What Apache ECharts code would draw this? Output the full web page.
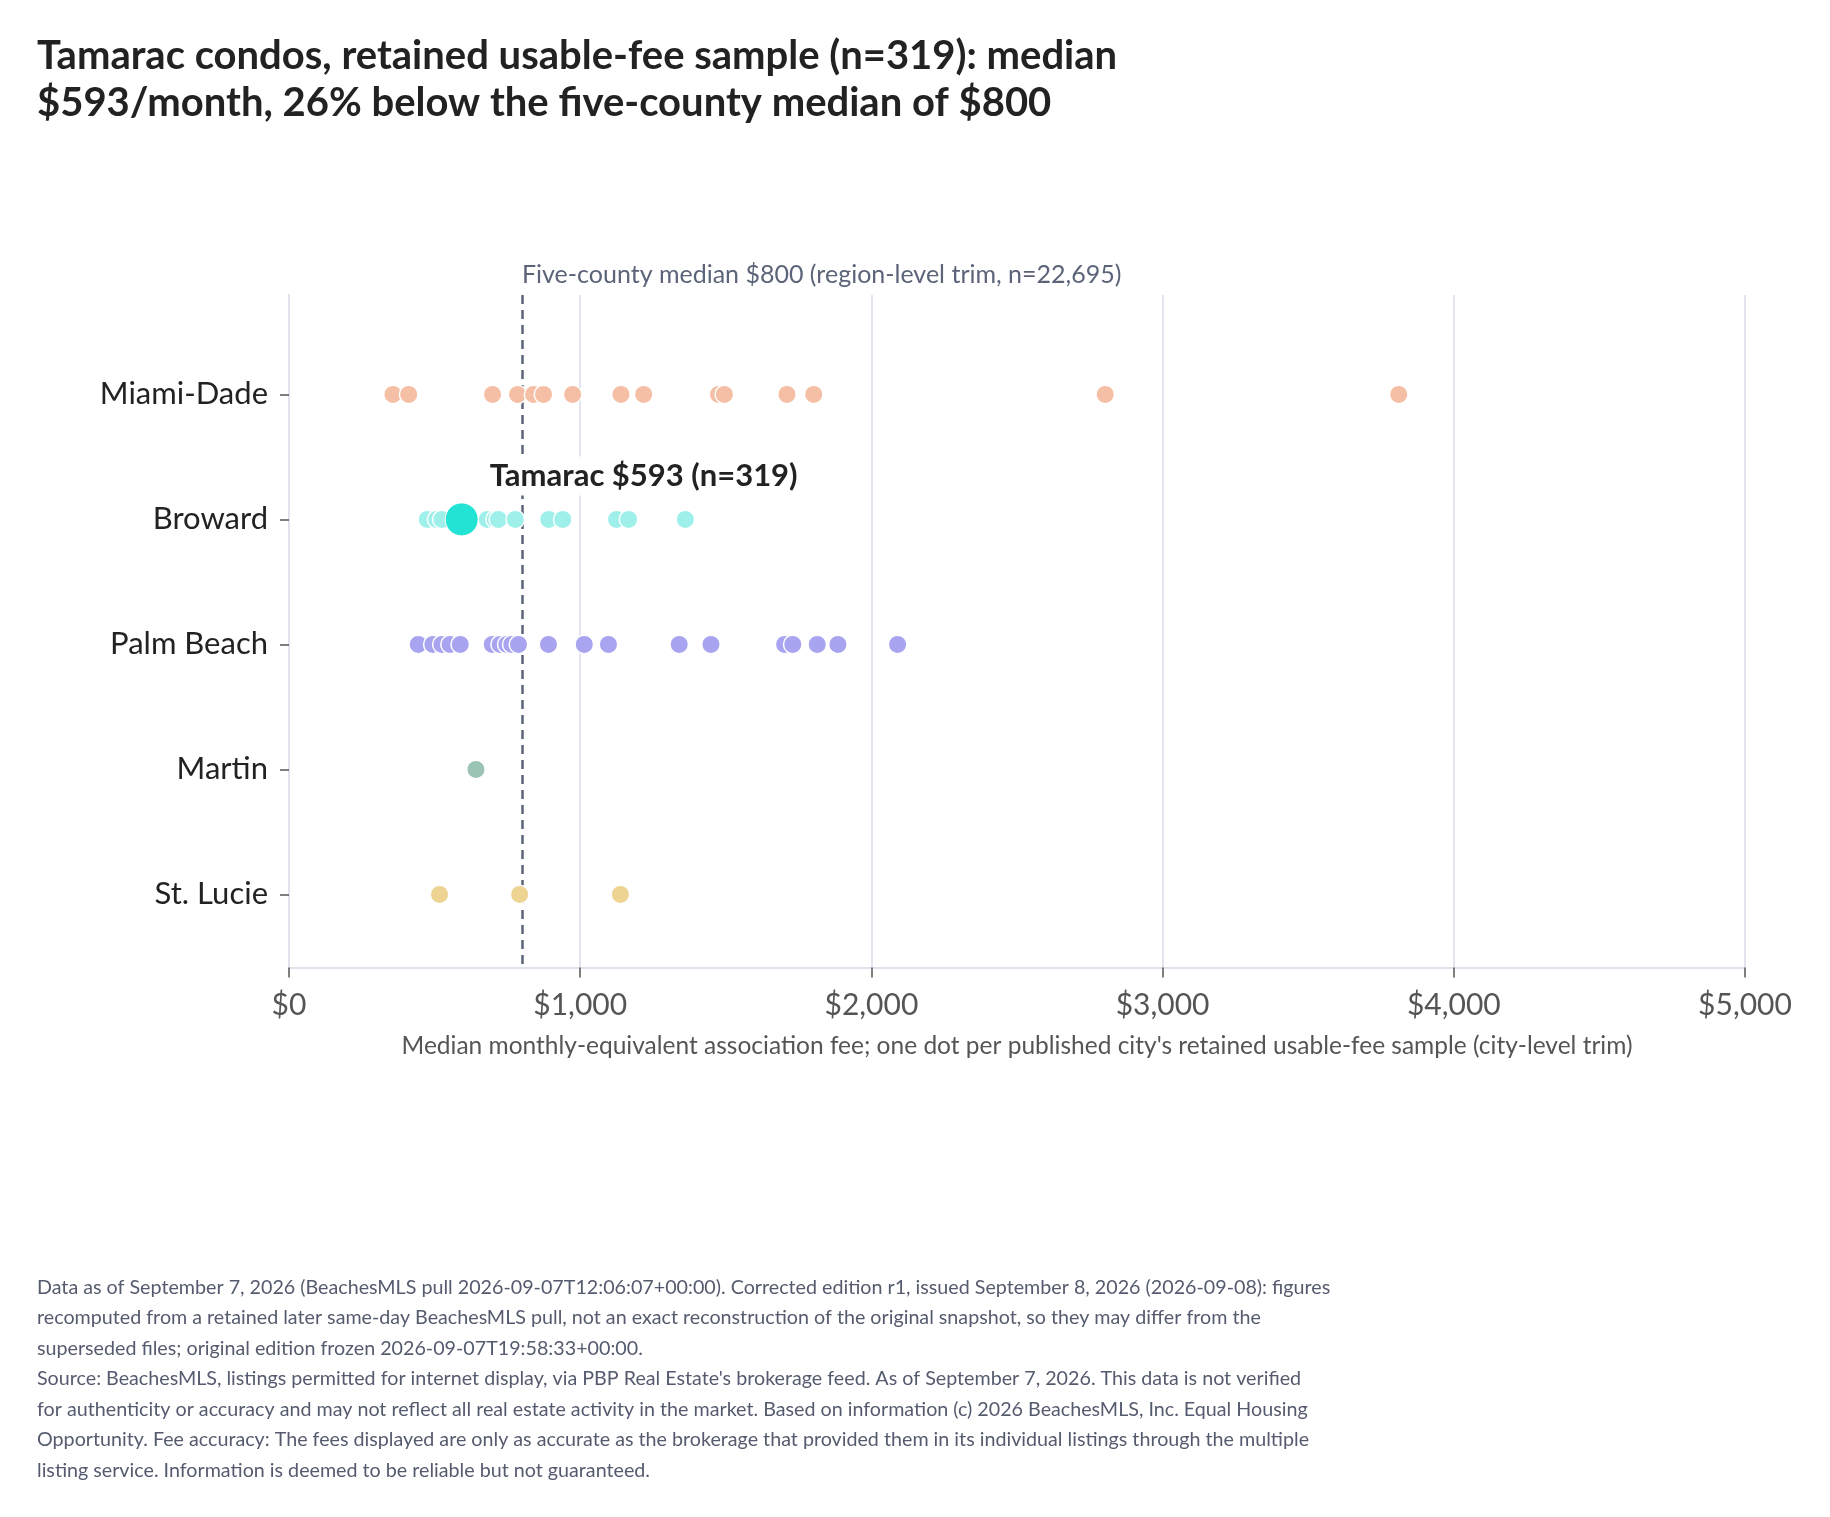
<!DOCTYPE html>
<html>
<head>
<meta charset="utf-8">
<script src="https://cdn.jsdelivr.net/npm/echarts@6/dist/echarts.min.js"></script>
<style>
  html, body { margin: 0; padding: 0; background: #fff; }
  #chart { width: 1830px; height: 1517px; }
</style>
</head>
<body>
<div id="chart"></div>
<script>
// counties, top to bottom
const counties = ['Miami-Dade', 'Broward', 'Palm Beach', 'Martin', 'St. Lucie'];
const countyColors = ['#f5bfa6', '#9ff0ea', '#a8a4f0', '#9bc4b5', '#eed493'];

// one median fee per published city, per county
const miamiDade = [357, 411, 699, 785, 840, 874, 974, 1140, 1218, 1475, 1495, 1710, 1802, 2803, 3811];
const broward = [475, 507, 525, 681, 708, 719, 777, 892, 940, 1125, 1166, 1361];
const palmBeach = [444, 494, 525, 553, 588, 698, 725, 748, 765, 788, 891, 1014, 1097, 1340, 1449, 1702, 1730, 1814, 1885, 2090];
const martin = [642];
const stLucie = [517, 792, 1138];
const countyFees = [miamiDade, broward, palmBeach, martin, stLucie];

const tamaracFee = 593;
const tamaracN = 319;
const regionMedian = 800;
const regionN = '22,695';

const xTicks = [0, 1000, 2000, 3000, 4000, 5000];

const footnote = [
  "Data as of September 7, 2026 (BeachesMLS pull 2026-09-07T12:06:07+00:00). Corrected edition r1, issued September 8, 2026 (2026-09-08): figures",
  "recomputed from a retained later same-day BeachesMLS pull, not an exact reconstruction of the original snapshot, so they may differ from the",
  "superseded files; original edition frozen 2026-09-07T19:58:33+00:00.",
  "Source: BeachesMLS, listings permitted for internet display, via PBP Real Estate's brokerage feed. As of September 7, 2026. This data is not verified",
  "for authenticity or accuracy and may not reflect all real estate activity in the market. Based on information (c) 2026 BeachesMLS, Inc. Equal Housing",
  "Opportunity. Fee accuracy: The fees displayed are only as accurate as the brokerage that provided them in its individual listings through the multiple",
  "listing service. Information is deemed to be reliable but not guaranteed."
].join('\n');

const FONT = 'Lato, "Noto Sans", sans-serif';
const money = v => '$' + v.toLocaleString('en-US');

const chart = echarts.init(document.getElementById('chart'), null, { renderer: 'canvas' });

const series = countyFees.map((vals, i) => ({
  name: counties[i],
  type: 'scatter',
  symbolSize: 18.5,
  itemStyle: { color: countyColors[i], borderColor: '#fff', borderWidth: 1.5, opacity: 1 },
  data: vals.map(v => [v, i]),
  z: 3
}));

// dashed five-county median
series[0].markLine = {
  silent: true,
  symbol: 'none',
  label: { show: false },
  lineStyle: { color: '#5b6478', type: [9, 6], width: 2.5 },
  data: [{ xAxis: regionMedian }],
  z: 2
};

series.push({
  name: 'Tamarac',
  type: 'scatter',
  symbolSize: 33,
  itemStyle: { color: '#22e3d4', borderColor: '#fff', borderWidth: 1, opacity: 1 },
  data: [[tamaracFee, 1]],
  z: 6,
  label: {
    show: true,
    position: 'top',
    distance: 0,
    align: 'left',
    verticalAlign: 'middle',
    offset: [24, -26.5],
    formatter: 'Tamarac ' + money(tamaracFee) + ' (n=' + tamaracN + ')',
    fontFamily: FONT,
    fontWeight: 'bold',
    fontSize: 31,
    color: '#222',
    opacity: 1,
    backgroundColor: '#fff',
    padding: [4, 4]
  }
});

const option = {
  backgroundColor: '#fff',
  animation: false,
  title: [
    {
      text: 'Tamarac condos, retained usable-fee sample (n=319): median\n$593/month, 26% below the five-county median of $800',
      left: 37,
      top: 33,
      padding: 0,
      textStyle: { fontFamily: FONT, fontWeight: 'bold', fontSize: 40, lineHeight: 47, color: '#222' }
    },
    {
      text: footnote,
      left: 37,
      top: 1272,
      padding: 0,
      textStyle: { fontFamily: FONT, fontWeight: 'normal', fontSize: 19.7, lineHeight: 30.5, color: '#555b6e' }
    }
  ],
  grid: { left: 289, right: 85, top: 295, bottom: 549.5, containLabel: false },
  xAxis: {
    type: 'value',
    min: 0,
    max: 5000,
    interval: 1000,
    name: "Median monthly-equivalent association fee; one dot per published city's retained usable-fee sample (city-level trim)",
    nameLocation: 'middle',
    nameGap: 66,
    nameTextStyle: { fontFamily: FONT, fontSize: 24.5, color: '#555' },
    axisLine: { show: true, onZero: false, lineStyle: { color: '#e2e2ee', width: 2 } },
    axisTick: { show: true, length: 10, lineStyle: { color: '#555', width: 1.5 } },
    axisLabel: {
      fontFamily: FONT, fontSize: 30, color: '#555', margin: 23,
      formatter: v => money(v),
      customValues: xTicks
    },
    splitLine: { show: true, lineStyle: { color: '#e4e4f0', width: 2 } }
  },
  yAxis: {
    type: 'value',
    inverse: true,
    min: -0.795,
    max: 4.585,
    axisLine: { show: true, onZero: false, lineStyle: { color: '#e2e2ee', width: 2 } },
    axisTick: { show: true, length: 9, lineStyle: { color: '#555', width: 1.5 }, customValues: [0, 1, 2, 3, 4] },
    axisLabel: {
      fontFamily: FONT, fontSize: 31, color: '#222', margin: 21,
      customValues: [0, 1, 2, 3, 4],
      formatter: v => counties[Math.round(v)] || ''
    },
    splitLine: { show: false }
  },
  series: series
};

chart.setOption(option);

// median label sits above the plot, left-aligned on the dashed line
const lineX = chart.convertToPixel({ xAxisIndex: 0 }, regionMedian);
const topY = chart.convertToPixel({ yAxisIndex: 0 }, -0.795);
chart.setOption({
  graphic: [{
    type: 'text',
    left: lineX,
    top: topY - 33,
    style: {
      text: 'Five-county median ' + money(regionMedian) + ' (region-level trim, n=' + regionN + ')',
      font: '25px ' + FONT,
      fill: '#5b6478'
    }
  }]
});
</script>
</body>
</html>
